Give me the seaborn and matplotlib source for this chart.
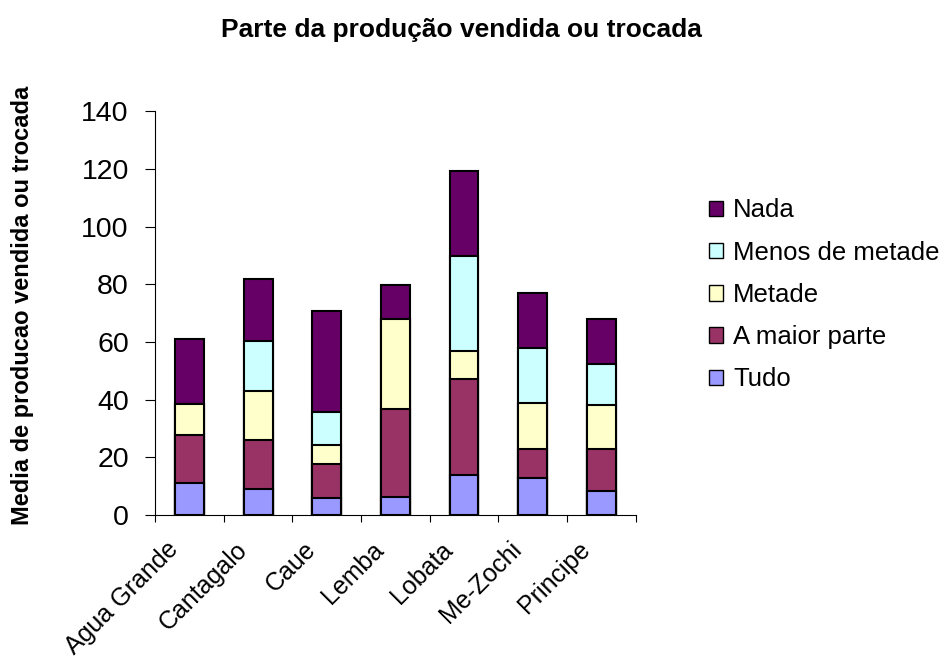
import numpy as np
import pandas as pd
import matplotlib
matplotlib.use("Agg")
import matplotlib.pyplot as plt
import matplotlib.transforms as mtransforms
import seaborn as sns
from matplotlib.patches import Patch

categories = ["Agua Grande", "Cantagalo", "Caue", "Lemba", "Lobata", "Me-Zochi", "Principe"]
tudo = [11.0, 8.9, 6.0, 6.1, 13.7, 12.9, 8.1]
maior_parte = [16.6, 17.2, 11.8, 30.5, 33.4, 9.9, 14.7]
metade = [11.0, 16.8, 6.3, 31.2, 9.7, 15.9, 15.3]
menos_metade = [0.0, 17.4, 11.7, 0.0, 33.1, 19.3, 14.3]
nada = [22.4, 21.4, 34.9, 11.9, 29.3, 18.9, 15.4]

series_names = ["Tudo", "A maior parte", "Metade", "Menos de metade", "Nada"]
series_vals = [tudo, maior_parte, metade, menos_metade, nada]
colors = ["#9999FF", "#993366", "#FFFFCC", "#CCFFFF", "#660066"]

sns.set_theme(style="white")
plt.rcParams['font.family'] = ['Liberation Sans', 'DejaVu Sans']
plt.rcParams.update({"text.color": "black", "axes.labelcolor": "black",
                     "xtick.color": "black", "ytick.color": "black"})

fig = plt.figure(figsize=(9.46, 6.66), dpi=100)
ax = fig.add_axes([0.164, 0.227, 0.508, 0.606])

cum = np.cumsum(np.array(series_vals), axis=0)
# draw from top of stack down so lower segments overlay
for i in range(len(series_names) - 1, -1, -1):
    df = pd.DataFrame({"cat": categories, "val": cum[i]})
    sns.barplot(data=df, x="cat", y="val", color=colors[i], width=0.42,
                edgecolor="black", linewidth=1.5, saturation=1, ax=ax, errorbar=None)

ax.set_xlim(-0.5, len(categories) - 0.5)
ax.set_ylim(0, 140)
ax.set_yticks(np.arange(0, 141, 20))
ax.tick_params(axis='y', labelsize=20.5, length=7, width=0.8, direction='out', left=True, pad=12)
ax.set_xticks(range(len(categories)))
ax.set_xticklabels(categories, rotation=45, ha='right', va='center', rotation_mode='anchor', fontsize=18)
ax.tick_params(axis='x', which='major', length=0, pad=0)
ax.set_xticks(np.arange(-0.5, len(categories), 1), minor=True)
ax.tick_params(axis='x', which='minor', length=5, width=0.8, bottom=True)
offset = mtransforms.ScaledTranslation(-15 / 100, -31 / 100, fig.dpi_scale_trans)
for lbl in ax.get_xticklabels():
    lbl.set_transform(lbl.get_transform() + offset)

for s in ["top", "right"]:
    ax.spines[s].set_visible(False)
for s in ["left", "bottom"]:
    ax.spines[s].set_color("black")
    ax.spines[s].set_linewidth(0.8)

ax.set_xlabel("")
ax.set_ylabel("Media de producao vendida ou trocada", fontsize=17, fontweight='bold')
ax.yaxis.set_label_coords(-0.252, 0.52)

fig.text(0.488, 0.955, "Parte da produção vendida ou trocada", ha='center', va='center',
         fontsize=19, fontweight='bold')

handles = [Patch(facecolor=colors[i], edgecolor='black', linewidth=1.0, label=series_names[i])
           for i in range(len(series_names) - 1, -1, -1)]
fig.legend(handles=handles, loc='upper left', bbox_to_anchor=(0.749, 0.702), frameon=False,
           fontsize=18.5, handlelength=0.55, handleheight=0.55, handletextpad=0.4,
           labelspacing=0.71, borderpad=0, borderaxespad=0)

fig.savefig("out.png", dpi=100)
